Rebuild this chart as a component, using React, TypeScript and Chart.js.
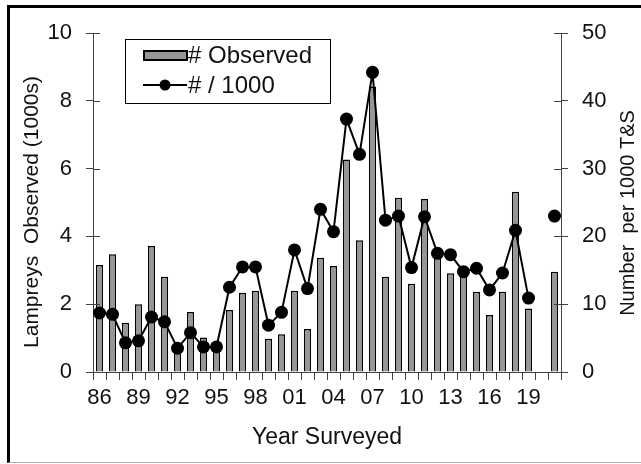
import React, { useEffect, useRef } from "react";
import { Chart, registerables } from "chart.js";

Chart.register(...registerables);

// Survey years (two-digit labels), 1986–2021
const years = [
  "86", "87", "88", "89", "90", "91", "92", "93", "94", "95", "96", "97",
  "98", "99", "00", "01", "02", "03", "04", "05", "06", "07", "08", "09",
  "10", "11", "12", "13", "14", "15", "16", "17", "18", "19", "20", "21",
];

// Years that carry a tick label on the x axis
const labelledYears = ["86", "89", "92", "95", "98", "01", "04", "07", "10", "13", "16", "19"];

// Lampreys observed (thousands)
const observed = [
  3.16, 3.47, 1.45, 2.0, 3.72, 2.81, 0.7, 1.77, 1.02, 0.85, 1.83, 2.34,
  2.4, 0.98, 1.11, 2.4, 1.27, 3.37, 3.13, 6.27, 3.89, 8.42, 2.81, 5.14,
  2.6, 5.1, 3.4, 2.91, 2.85, 2.37, 1.68, 2.37, 5.32, 1.87, null, 2.96,
];

// Number per 1000 T&S
const perThousand = [
  8.7, 8.5, 4.3, 4.6, 8.1, 7.4, 3.5, 5.8, 3.7, 3.7, 12.5, 15.5,
  15.5, 6.9, 8.8, 18.0, 12.3, 24.0, 20.7, 37.3, 32.1, 44.2, 22.4, 23.0,
  15.4, 22.9, 17.5, 17.3, 14.8, 15.3, 12.1, 14.6, 20.9, 10.9, null, 23.0,
];

const leftTicks = [0, 2, 4, 6, 8, 10];
const rightTicks = [0, 10, 20, 30, 40, 50];

const leftTitle = "Lampreys  Observed (1000s)";
const rightTitle = "Number  per 1000 T&S";
const xTitle = "Year Surveyed";

const FONT = "'Liberation Sans', Arial, Helvetica, sans-serif";
const AXIS = "#404040";
const TEXT = "#111111";
const BAR_FILL = "#969696";

// Short tick marks on the inner side of both value axes
const innerTicks = {
  id: "innerTicks",
  afterDatasetsDraw(chart: any) {
    const { ctx, chartArea } = chart;
    ctx.save();
    ctx.strokeStyle = AXIS;
    ctx.lineWidth = 1;
    const ys = chart.scales.y;
    const yr = chart.scales.y1;
    ctx.beginPath();
    for (const v of leftTicks) {
      const py = Math.round(ys.getPixelForValue(v)) + 0.5;
      ctx.moveTo(chartArea.left, py);
      ctx.lineTo(chartArea.left + 7, py);
    }
    for (const v of rightTicks) {
      const py = Math.round(yr.getPixelForValue(v)) + 0.5;
      ctx.moveTo(chartArea.right - 7, py);
      ctx.lineTo(chartArea.right, py);
    }
    ctx.stroke();
    ctx.restore();
  },
};

// Both value-axis titles read bottom to top
const axisTitles = {
  id: "axisTitles",
  afterDraw(chart: any) {
    const ctx = chart.ctx;
    ctx.save();
    ctx.fillStyle = TEXT;
    ctx.font = `21px ${FONT}`;
    ctx.textAlign = "center";
    ctx.textBaseline = "middle";
    ctx.translate(32, 212);
    ctx.rotate(-Math.PI / 2);
    ctx.fillText(leftTitle, 0, 0);
    ctx.restore();

    ctx.save();
    ctx.fillStyle = TEXT;
    ctx.font = `20px ${FONT}`;
    ctx.textAlign = "center";
    ctx.textBaseline = "middle";
    ctx.translate(628, 213);
    ctx.rotate(-Math.PI / 2);
    ctx.fillText(rightTitle, 0, 0);
    ctx.restore();
  },
};

// Boxed legend sitting inside the plot area
const boxLegend = {
  id: "boxLegend",
  afterDraw(chart: any) {
    const ctx = chart.ctx;
    const x = 125.5;
    const y = 39.5;
    const w = 205;
    const h = 64;
    ctx.save();
    ctx.fillStyle = "#ffffff";
    ctx.fillRect(x, y, w, h);
    ctx.strokeStyle = "#000000";
    ctx.lineWidth = 1;
    ctx.strokeRect(x, y, w, h);

    // bar swatch
    ctx.fillStyle = BAR_FILL;
    ctx.fillRect(144, 51, 43, 9);
    ctx.lineWidth = 2;
    ctx.strokeRect(144, 51, 43, 9);

    // line + marker swatch
    ctx.beginPath();
    ctx.lineWidth = 2;
    ctx.moveTo(143, 85);
    ctx.lineTo(187, 85);
    ctx.stroke();
    ctx.beginPath();
    ctx.fillStyle = "#000000";
    ctx.arc(165, 85, 5.5, 0, Math.PI * 2);
    ctx.fill();

    ctx.fillStyle = TEXT;
    ctx.font = `24px ${FONT}`;
    ctx.textBaseline = "middle";
    ctx.textAlign = "left";
    ctx.fillText(chart.data.datasets[0].label, 188, 56);
    ctx.fillText(chart.data.datasets[1].label, 188, 86);
    ctx.restore();
  },
};

export default function App() {
  const canvasRef = useRef<HTMLCanvasElement | null>(null);

  useEffect(() => {
    const canvas = canvasRef.current;
    if (!canvas) return;
    const chart = new Chart(canvas, {
      type: "bar",
      data: {
        labels: years,
        datasets: [
          {
            type: "bar",
            label: "# Observed",
            data: observed,
            yAxisID: "y",
            backgroundColor: BAR_FILL,
            borderColor: "#000000",
            borderWidth: 1.5,
            categoryPercentage: 1,
            barPercentage: 0.55,
            order: 2,
          },
          {
            type: "line",
            label: "# / 1000",
            data: perThousand,
            yAxisID: "y1",
            borderColor: "#000000",
            borderWidth: 2,
            pointRadius: 6.5,
            pointBackgroundColor: "#000000",
            pointBorderColor: "#000000",
            pointBorderWidth: 0,
            spanGaps: false,
            tension: 0,
            order: 1,
          } as any,
        ],
      },
      options: {
        responsive: false,
        animation: false,
        layout: { padding: { top: 33, left: 0, right: 0, bottom: 0 } },
        plugins: {
          legend: { display: false },
          tooltip: { enabled: false },
        },
        scales: {
          x: {
            offset: true,
            grid: {
              offset: true,
              drawOnChartArea: false,
              tickLength: 8,
              color: AXIS,
            },
            border: { color: AXIS, width: 1 },
            ticks: {
              autoSkip: false,
              maxRotation: 0,
              padding: 5,
              color: TEXT,
              font: { family: FONT, size: 22 },
              callback: (_v: any, i: number) =>
                labelledYears.includes(years[i]) ? years[i] : "",
            },
            title: {
              display: true,
              text: xTitle,
              color: TEXT,
              font: { family: FONT, size: 23 },
              padding: { top: 0, bottom: 13 },
            },
            afterFit: (s: any) => {
              s.height = 92;
            },
          },
          y: {
            position: "left",
            min: 0,
            max: 10,
            grid: { drawOnChartArea: false, tickLength: 7, color: AXIS },
            border: { color: AXIS, width: 1 },
            ticks: {
              stepSize: 2,
              padding: 14,
              color: TEXT,
              font: { family: FONT, size: 22 },
            },
            afterFit: (s: any) => {
              s.width = 93;
            },
          },
          y1: {
            position: "right",
            min: 0,
            max: 50,
            grid: { drawOnChartArea: false, tickLength: 7, color: AXIS },
            border: { color: AXIS, width: 1 },
            ticks: {
              stepSize: 10,
              padding: 14,
              color: TEXT,
              font: { family: FONT, size: 22 },
            },
            afterFit: (s: any) => {
              s.width = 80;
            },
          },
        },
      },
      plugins: [innerTicks, axisTitles, boxLegend],
    });
    return () => chart.destroy();
  }, []);

  return (
    <div
      style={{
        position: "fixed",
        left: 0,
        top: 0,
        width: 641,
        height: 464,
        background: "#ffffff",
        overflow: "hidden",
      }}
    >
      <div
        style={{
          position: "absolute",
          left: 7,
          top: 5,
          width: 641,
          height: 454,
          borderLeft: "3px solid #000",
          borderTop: "3px solid #000",
          borderBottom: "1px solid #b0b0b0",
        }}
      />
      <canvas
        ref={canvasRef}
        width={641}
        height={464}
        style={{ position: "absolute", left: 0, top: 0, width: 641, height: 464 }}
      />
    </div>
  );
}
